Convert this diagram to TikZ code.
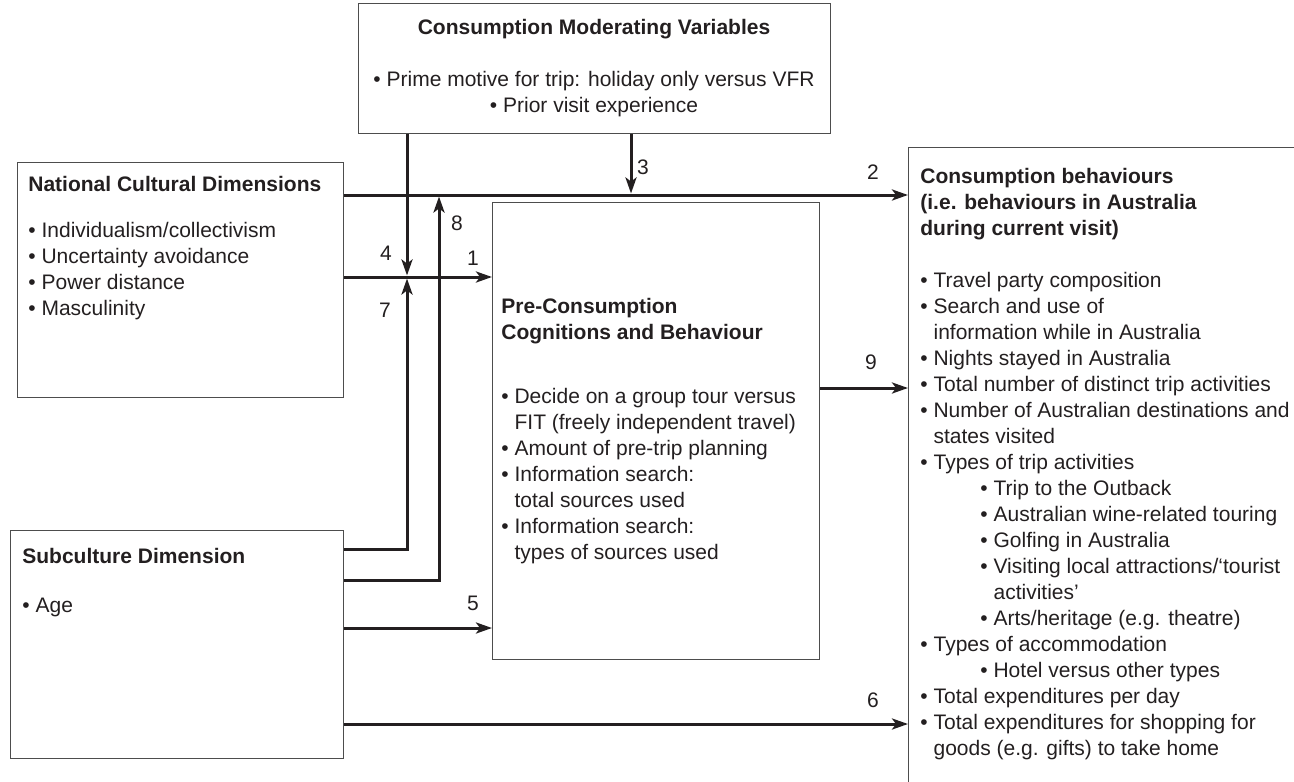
\documentclass[tikz,border=0pt]{standalone}
\usepackage{fontspec}
\setmainfont{Liberation Sans}
\usetikzlibrary{arrows.meta,positioning}
\definecolor{ink}{HTML}{231F20}
\definecolor{rule}{HTML}{4D4D4D}
\newcommand{\bgap}{\phantom{• }}
\newcommand{\subgap}{\hspace*{30pt}}

\begin{document}
\begin{tikzpicture}
	[x=0.5pt,y=-0.5pt,
	 box/.style={draw=rule,line width=0.65pt,inner sep=0pt,anchor=north west},
	 body/.style={inner sep=0pt,align=left,anchor=north west,text=ink,
	   font=\fontsize{10.5}{13}\selectfont},
	 num/.style={inner sep=0pt,text=ink,font=\fontsize{10.5}{13}\selectfont},
	 link/.style={draw=ink,line width=1.5pt},
	 flow/.style={link,-{Stealth[length=8pt,width=5.5pt,inset=2pt]}}]
\useasboundingbox (0,0) rectangle (1294,781);
\clip (0,0) rectangle (1294,781);
% the five boxes
\node[box,minimum width=236pt,minimum height=65pt] (mod) at (358,3) {};
\node[box,minimum width=163pt,minimum height=117.5pt] (ncd) at (17,162) {};
\node[box,minimum width=166.5pt,minimum height=114pt] (sub) at (10,530) {};
\node[box,minimum width=163.5pt,minimum height=228.5pt] (pcb) at (492,202) {};
\node[box,minimum width=250pt,minimum height=350pt] (cbh) at (908,147) {};
% texts
\node[body,anchor=north,align=center] (modtxt) at (594,19)
 {\textbf{Consumption Moderating Variables}\\[13pt]
  • Prime motive for trip: holiday only versus VFR\\
  • Prior visit experience};
\node[body] (ncdtxt) at (28,176)
 {\textbf{National Cultural Dimensions}\\[10pt]
  • Individualism/collectivism\\
  • Uncertainty avoidance\\
  • Power distance\\
  • Masculinity};
\node[body] (subtxt) at (22,548)
 {\textbf{Subculture Dimension}\\[11.5pt]
  • Age};
\node[body] (pcbtxt) at (501,298)
 {\textbf{Pre-Consumption}\\
  \textbf{Cognitions and Behaviour}\\[19pt]
  • Decide on a group tour versus\\
  \bgap FIT (freely independent travel)\\
  • Amount of pre-trip planning\\
  • Information search:\\
  \bgap total sources used\\
  • Information search:\\
  \bgap types of sources used};
\node[body] (cbhtxt) at (920,168)
 {\textbf{Consumption behaviours}\\
  \textbf{(i.e. behaviours in Australia}\\
  \textbf{during current visit)}\\[13pt]
  • Travel party composition\\
  • Search and use of\\
  \bgap information while in Australia\\
  • Nights stayed in Australia\\
  • Total number of distinct trip activities\\
  • Number of Australian destinations and\\
  \bgap states visited\\
  • Types of trip activities\\
  \subgap• Trip to the Outback\\
  \subgap• Australian wine-related touring\\
  \subgap• Golfing in Australia\\
  \subgap• Visiting local attractions/‘tourist\\
  \subgap\bgap activities’\\
  \subgap• Arts/heritage (e.g. theatre)\\
  • Types of accommodation\\
  \subgap• Hotel versus other types\\
  • Total expenditures per day\\
  • Total expenditures for shopping for\\
  \bgap goods (e.g. gifts) to take home};
% junctions
\coordinate (j3) at (631,195);
\coordinate (j4) at (407,277);
\coordinate (j8) at (439,195);
% connectors
\draw[flow] (ncd.east |- 0,195) -- (cbh.west |- 0,195);
\draw[flow] (ncd.east |- j4) -- (pcb.west |- j4);
\draw[flow,shorten >=0.75pt] (mod.south -| j3) -- (j3);
\draw[flow,shorten >=0.75pt] (mod.south -| j4) -- (j4);
\draw[flow,shorten >=0.75pt] (sub.east |- 0,549) -| (j4);
\draw[flow,shorten >=0.75pt] (sub.east |- 0,580) -| (j8);
\draw[flow] (sub.east |- 0,628) -- (pcb.west |- 0,628);
\draw[flow] (sub.east |- 0,724) -- (cbh.west |- 0,724);
\draw[flow] (pcb.east |- 0,388) -- (cbh.west |- 0,388);
% numbers
\foreach \n/\x/\y in {1/473/258,2/873/172,3/643/167,4/386/253,5/473/603,
                      6/873/700,7/385/310,8/457/223,9/871/362}
  \node[num] (lab\n) at (\x,\y) {\n};
\end{tikzpicture}
\end{document}
